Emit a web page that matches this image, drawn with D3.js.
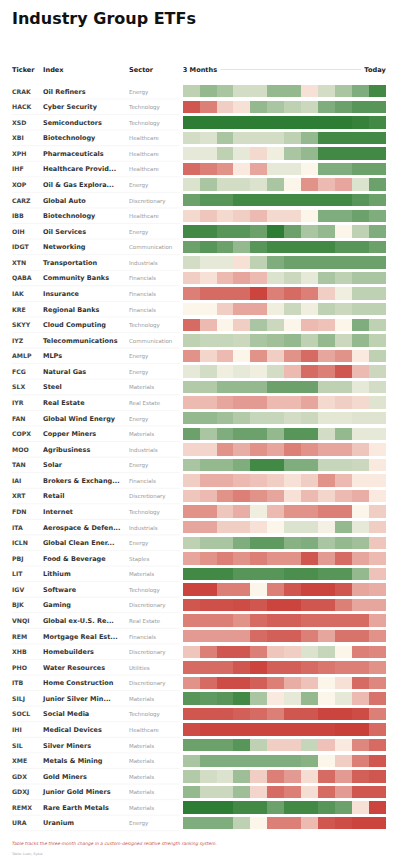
<!DOCTYPE html>
<html>
<head>
<meta charset="utf-8">
<script src="https://cdn.jsdelivr.net/npm/d3@7"></script>
<style>
  body { margin: 0; background: #fff; }
  svg text { font-family: "DejaVu Sans", sans-serif; }
</style>
</head>
<body>
<div id="chart"></div>
<script>
// ___________________________ data _______________________________
const tickers = ["CRAK","HACK","XSD","XBI","XPH","IHF","XOP","CARZ","IBB","OIH","IDGT","XTN",
  "QABA","IAK","KRE","SKYY","IYZ","AMLP","FCG","SLX","IYR","FAN","COPX","MOO",
  "TAN","IAI","XRT","FDN","ITA","ICLN","PBJ","LIT","IGV","BJK","VNQI","REM",
  "XHB","PHO","ITB","SILJ","SOCL","IHI","SIL","XME","GDX","GDXJ","REMX","URA"];

const indexNames = ["Oil Refiners","Cyber Security","Semiconductors","Biotechnology","Pharmaceuticals",
  "Healthcare Provid...","Oil & Gas Explora...","Global Auto","Biotechnology","Oil Services",
  "Networking","Transportation","Community Banks","Insurance","Regional Banks","Cloud Computing",
  "Telecommunications","MLPs","Natural Gas","Steel","Real Estate","Global Wind Energy",
  "Copper Miners","Agribusiness","Solar","Brokers & Exchang...","Retail","Internet",
  "Aerospace & Defen...","Global Clean Ener...","Food & Beverage","Lithium","Software","Gaming",
  "Global ex-U.S. Re...","Mortgage Real Est...","Homebuilders","Water Resources",
  "Home Construction","Junior Silver Min...","Social Media","Medical Devices","Silver Miners",
  "Metals & Mining","Gold Miners","Junior Gold Miners","Rare Earth Metals","Uranium"];

const sectors = ["Energy","Technology","Technology","Healthcare","Healthcare","Healthcare","Energy",
  "Discretionary","Healthcare","Energy","Communication","Industrials","Financials","Financials",
  "Financials","Technology","Communication","Energy","Energy","Materials","Real Estate","Energy",
  "Materials","Industrials","Energy","Financials","Discretionary","Technology","Industrials",
  "Energy","Staples","Materials","Technology","Discretionary","Real Estate","Financials",
  "Discretionary","Utilities","Discretionary","Materials","Technology","Healthcare","Materials",
  "Materials","Materials","Materials","Materials","Energy"];

const periods = ["w1","w2","w3","w4","w5","w6","w7","w8","w9","w10","w11","w12"];

// relative strength change, -5 (weak) .. 5 (strong), one row per ticker, oldest -> today
const strength = [
  [1.5, 2.5, 2, 1, 1, 2.5, 2.5, -0.5, 1, 2, 3, 4.5],
  [-4, -3, -1, -0.5, 2.5, 2, 1.5, 1.2, 3, 3.5, 4, 4],
  [5, 5, 5, 5, 5, 5, 5, 5, 5, 5, 4.8, 4.5],
  [1, 0.8, 2, 1, 1, 1, 1.5, 2.5, 4.5, 4.5, 4.5, 4.5],
  [0.5, 0.5, 1.5, 0.5, -0.7, 0.3, 2, 2.5, 4.5, 4.5, 4.5, 4.5],
  [-3.5, -3, -2.5, -0.3, -2, 0.5, 0.5, 0, 3, 3, 3.5, 3.5],
  [0.8, 2, 1, 1, 0.8, 2, 0, -2.5, -1.5, -2, 0.8, 3.5],
  [3.5, 4, 4, 4.5, 4.5, 4.5, 4.5, 4.5, 4.5, 4.5, 4, 3.5],
  [-0.7, -1.2, -0.7, -1, -1.5, -0.7, -0.7, 0, 3, 3, 3.5, 3],
  [4.5, 4.5, 4, 4, 3.5, 5, 3.5, 2, 2.5, 0, 1.5, 3],
  [3.5, 4, 3.5, 2.5, 4, 4.5, 4.5, 4.5, 4.5, 4, 4, 3.5],
  [1, 0.5, 0.5, -0.5, 1.5, 3, 3.5, 3.5, 3.5, 3.5, 3.5, 3.5],
  [-1, -0.5, -1.5, -2, -1.5, 0.8, 1.2, 0.5, 2, 1.5, 2, 2],
  [-3, -3.5, -3.5, -3.5, -4.5, -3, -3.5, -3, -1, 0.3, 1.5, 1.5],
  [0, 0, -1, -2, -2, 0.3, 1.2, 0.3, 1.5, 1.2, 1.5, 1.5],
  [-3.5, -1.5, 0, -1, 2, 1.2, 0, -1.5, -1.3, 0, 3, 1.5],
  [1.5, 1.3, 1.3, 1.2, 2, 2.2, 2.5, 1.5, 2.5, 1.2, 2.5, 1.5],
  [-2.5, -0.8, -1.5, 0, -2.5, -1, -2.5, -3.5, -2, -2.5, -0.3, 1.5],
  [0.5, 1, 0.3, 0.5, 0.3, 1, -1.5, -3.5, -3, -4, -1.5, 1.2],
  [1.8, 1.8, 2.5, 2.5, 2.5, 3.5, 3.5, 3.5, 1.5, 1.5, 0.5, 1],
  [-1.5, -1.5, -2, -2.3, -2.3, -1.5, -1.5, -2, -0.7, -1, -0.7, 0.7],
  [2.5, 2.5, 2.2, 1.8, 1.3, 1.3, 1, 1.2, 0.6, 0.6, 0.7, 0.7],
  [3.5, 2, 3, 3.5, 3.5, 2.5, 4, 4, 1, 2.5, 0.5, 0.5],
  [-0.8, -0.8, -2.5, -1.8, -2.5, -2, -3, -2.5, -2, -2, -1.2, -0.3],
  [2, 2.5, 2.5, 3, 4.5, 4.5, 3, 3, 1.3, 1.3, 1.2, -0.3],
  [-1, -1.8, -1.8, -1.5, -1.3, -1, -0.5, -1, -2.5, -1.5, -0.3, -0.3],
  [-1.2, -1.5, -2.5, -3, -2.5, -2, -0.5, -1.5, -0.8, -1.5, -1.8, -0.3],
  [-2.5, -2.5, -1.2, -1.8, 0.3, -1.5, -2.5, -2.5, -3, -3, 0, -1],
  [-2, -2, -1, -1, -0.5, 0, 0.8, 0.8, 0.2, 2.5, 0.5, -1],
  [1.5, 2, 2, 3, 3.8, 3.8, 2.8, 3, 2, 2.5, 2.2, -1.2],
  [-2, -2.5, -3, -2.5, -3, -2.5, -2.5, -4, -2.3, -3.5, -2, -1.5],
  [4.5, 4.5, 4.5, 4, 4, 4, 4.3, 4.3, 4, 4, 2.5, -1.3],
  [-4.5, -4.5, -3, -3, 0, -3, -4, -4.5, -4.5, -4, -2, -1.8],
  [-4, -4.2, -4.2, -4.3, -4, -4.5, -4.5, -4, -4, -3, -2, -2],
  [-3, -3, -3, -2.5, -3.5, -3.8, -3.8, -3.5, -3.5, -3.5, -3.5, -2],
  [-2.3, -2.3, -2.3, -2.3, -3.5, -3.8, -3.8, -3, -2, -3.3, -3.3, -2.5],
  [-1.2, -3, -4, -4, -3, -1.2, -1, 0.8, 1.3, 0, -3, -2.8],
  [-3.5, -3.5, -3.5, -4, -4.5, -3.8, -3.8, -3.5, -3.2, -3, -3, -2.5],
  [-2.5, -3.5, -4.3, -4.3, -3.8, -3, -1.8, -1.3, 0, -0.5, -3.5, -2.8],
  [4, 3.8, 4, 4.5, 2, -0.3, 0.5, 2.5, 0, 0.5, -1.5, -3.3],
  [-4, -4, -4, -3.8, -3.5, -3, -4, -4, -4.5, -4.5, -4.3, -3],
  [-4.3, -4.5, -4.5, -4.5, -4.5, -4.5, -4.5, -4.5, -4.5, -4.6, -4.6, -3.5],
  [3.5, 3.5, 3.5, 4, 1.5, -1, -1, 1.3, -1.3, -0.3, -2.8, -3.5],
  [2, 3, 3, 3, 3, 3, 3, 2.8, 0, -1, -3, -4],
  [1.8, 1, 0.8, 2.3, -1, -3, -2.3, -0.6, -3.5, -2.3, -3.8, -4],
  [2.5, 1.2, 1.2, 2.3, -0.8, -3.5, -3, -0.6, -3.5, -2.3, -4, -4],
  [5, 5, 5, 4.5, 4.5, 3.5, 4.5, 4.5, 4, 3.5, -0.5, -4.5],
  [3, 3, 3, 1.5, 0, -3, -3, -1.5, -4, -4.3, -4.5, -4.5]
];

// ___________________________ chart _______________________________
const width = 397, height = 860;
const margin = { left: 12, right: 11 };
const col = { ticker: 12, index: 43, sector: 129 };
const heat = { x0: 182.7, x1: 385.7 };

const svg = d3.select("#chart").append("svg")
  .attr("width", width)
  .attr("height", height);

svg.append("text")
  .attr("x", margin.left)
  .attr("y", 23.5)
  .style("font-size", "16px")
  .style("font-weight", "bold")
  .style("fill", "#111")
  .text("Industry Group ETFs");

// header
const headerY = 72;
const header = svg.append("g").style("font-size", "6.6px").style("font-weight", "bold").style("fill", "#222");
header.append("text").attr("x", col.ticker).attr("y", headerY).text("Ticker");
header.append("text").attr("x", col.index).attr("y", headerY).text("Index");
header.append("text").attr("x", col.sector).attr("y", headerY).text("Sector");
const startLabel = header.append("text").attr("x", heat.x0).attr("y", headerY).text("3 Months");
const endLabel = header.append("text").attr("x", heat.x1).attr("y", headerY)
  .attr("text-anchor", "end").text("Today");
const sw = startLabel.node().getComputedTextLength();
const ew = endLabel.node().getComputedTextLength();
svg.append("line")
  .attr("x1", heat.x0 + sw + 3).attr("x2", heat.x1 - ew - 3)
  .attr("y1", 69.5).attr("y2", 69.5)
  .attr("stroke", "#ddd").attr("stroke-width", 0.8);

// scales
const y = d3.scaleBand()
  .domain(tickers)
  .range([83.44, 830.8])
  .paddingInner(0.2)
  .paddingOuter(0.1);

const x = d3.scaleBand()
  .domain(periods)
  .range([heat.x0, heat.x1])
  .padding(0);

const color = d3.scaleLinear()
  .domain([-5, 0, 5])
  .range(["#c5302a", "#fcf5ea", "#2e7d34"])
  .interpolate(d3.interpolateRgb)
  .clamp(true);

const rows = tickers.map((t, i) => ({ ticker: t, name: indexNames[i], sector: sectors[i], values: strength[i] }));

// row separators
svg.selectAll(".sep")
  .data(rows)
  .enter()
  .append("line")
  .attr("class", "sep")
  .attr("x1", margin.left)
  .attr("x2", heat.x0 - 3)
  .attr("y1", d => y(d.ticker) + y.bandwidth() + 1.5)
  .attr("y2", d => y(d.ticker) + y.bandwidth() + 1.5)
  .attr("stroke", "#f0f0f0")
  .attr("stroke-width", 0.6);

const row = svg.selectAll(".row")
  .data(rows)
  .enter()
  .append("g")
  .attr("class", "row")
  .attr("transform", d => `translate(0,${y(d.ticker)})`);

const ty = y.bandwidth() / 2 + 2.4;

row.append("text")
  .attr("x", col.ticker)
  .attr("y", ty)
  .style("font-size", "6.2px")
  .style("font-weight", "600")
  .style("fill", "#444")
  .text(d => d.ticker);

row.append("text")
  .attr("x", col.index)
  .attr("y", ty)
  .style("font-size", "6.5px")
  .style("font-weight", "bold")
  .style("fill", "#333")
  .text(d => d.name);

row.append("text")
  .attr("x", col.sector)
  .attr("y", ty)
  .style("font-size", "5.5px")
  .style("fill", "#9a9a9a")
  .text(d => d.sector);

row.selectAll("rect")
  .data(d => d.values.map((v, j) => ({ period: periods[j], value: v })))
  .enter()
  .append("rect")
  .attr("x", d => x(d.period))
  .attr("y", 0)
  .attr("width", x.bandwidth() + 0.3)
  .attr("height", y.bandwidth())
  .attr("fill", d => color(d.value))
  .attr("shape-rendering", "crispEdges");

// footer
svg.append("text")
  .attr("x", margin.left)
  .attr("y", 845)
  .style("font-size", "4.4px")
  .style("font-style", "italic")
  .style("fill", "#c9574f")
  .text("Table tracks the three-month change in a custom-designed relative strength ranking system.");

svg.append("text")
  .attr("x", margin.left)
  .attr("y", 854.5)
  .style("font-size", "3.4px")
  .style("fill", "#aaa")
  .text("Table: Luan, Sybie");
</script>
</body>
</html>
